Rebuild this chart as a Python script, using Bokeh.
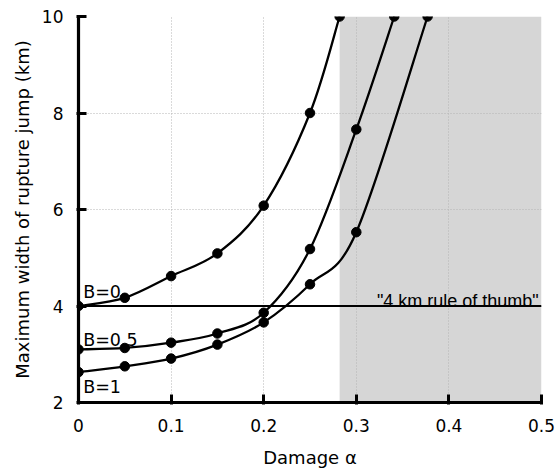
import numpy as np
from bokeh.plotting import figure
from bokeh.models import Range1d, FixedTicker, ColumnDataSource
from bokeh.core.properties import value
from bokeh.embed import file_html
from bokeh.resources import INLINE

# Data
alpha_b0 = [0.0, 0.05, 0.10, 0.15, 0.20, 0.25, 0.282]
width_b0 = [4.00, 4.17, 4.62, 5.09, 6.08, 8.00, 10.0]
alpha_b05 = [0.0, 0.05, 0.10, 0.15, 0.20, 0.25, 0.30, 0.341]
width_b05 = [3.10, 3.13, 3.24, 3.43, 3.86, 5.18, 7.66, 10.0]
alpha_b1 = [0.0, 0.05, 0.10, 0.15, 0.20, 0.25, 0.30, 0.377]
width_b1 = [2.63, 2.75, 2.91, 3.20, 3.66, 4.45, 5.53, 10.0]
series_labels = ["B=0", "B=0.5", "B=1"]
label_pos_x = [0.005, 0.005, 0.005]
label_pos_y = [4.29, 3.30, 2.33]
rule_width = 4.0
rule_label = '"4 km rule of thumb"'
shade_start = 0.282
x_ticks = [0, 0.1, 0.2, 0.3, 0.4, 0.5]
y_ticks = [2, 4, 6, 8, 10]

FONT = "'DejaVu Sans'"

p = figure(width=559, height=470, output_backend="svg", toolbar_location=None,
           x_range=Range1d(0, 0.5), y_range=Range1d(2, 10),
           min_border_left=78, min_border_right=18, min_border_top=16,
           min_border_bottom=66)
p.outline_line_color = None

# shaded region
p.quad(left=[shade_start], right=[0.5], bottom=[2], top=[10],
       fill_color="#d6d6d6", line_color=None, level="image")

# rule of thumb line
p.line([0, 0.5], [rule_width, rule_width], line_color="black", line_width=2)
p.text(x=[0.497], y=[rule_width + 0.11], text=[rule_label],
       text_font=value("'Liberation Sans'"), text_font_size="18px",
       text_align="right", text_baseline="alphabetic", text_color="black")


def bezier_segments(xs, ys):
    xs = np.asarray(xs, float)
    ys = np.asarray(ys, float)
    n = len(xs)
    px = np.concatenate([[xs[0]], xs, [xs[-1]]])
    py = np.concatenate([[ys[0]], ys, [ys[-1]]])
    x0, y0, x1, y1, cx0, cy0, cx1, cy1 = [], [], [], [], [], [], [], []
    for i in range(n - 1):
        a, b, c, d = i, i + 1, i + 2, i + 3
        x0.append(px[b]); y0.append(py[b])
        x1.append(px[c]); y1.append(py[c])
        cx0.append(px[b] + (px[c] - px[a]) / 6.0)
        cy0.append(py[b] + (py[c] - py[a]) / 6.0)
        cx1.append(px[c] - (px[d] - px[b]) / 6.0)
        cy1.append(py[c] - (py[d] - py[b]) / 6.0)
    return dict(x0=x0, y0=y0, x1=x1, y1=y1, cx0=cx0, cy0=cy0, cx1=cx1, cy1=cy1)


for xs, ys in [(alpha_b0, width_b0), (alpha_b05, width_b05), (alpha_b1, width_b1)]:
    src = ColumnDataSource(bezier_segments(xs, ys))
    p.bezier(x0="x0", y0="y0", x1="x1", y1="y1", cx0="cx0", cy0="cy0",
             cx1="cx1", cy1="cy1", source=src, line_color="black", line_width=2.3)
    p.scatter(xs, ys, size=9.5, color="black")

p.text(x=label_pos_x, y=label_pos_y, text=series_labels,
       text_font=value(FONT), text_font_size="17.5px",
       text_baseline="alphabetic", text_color="black")

# grid
for g in p.grid:
    g.grid_line_color = "#b4b4b4"
    g.grid_line_dash = "1 2"
    g.grid_line_width = 1
p.xgrid.ticker = FixedTicker(ticks=x_ticks)
p.ygrid.ticker = FixedTicker(ticks=y_ticks)

# axes
p.xaxis.ticker = FixedTicker(ticks=x_ticks)
p.yaxis.ticker = FixedTicker(ticks=y_ticks)
p.xaxis.major_label_overrides = {0: "0"}
for ax in [p.xaxis[0], p.yaxis[0]]:
    ax.axis_line_width = 3.2
    ax.axis_line_color = "black"
    ax.major_tick_line_width = 3
    ax.major_tick_line_color = "black"
    ax.major_tick_in = 8
    ax.major_tick_out = 2
    ax.minor_tick_line_color = None
    ax.major_label_text_font = FONT
    ax.major_label_text_font_size = "17px"
    ax.major_label_text_color = "black"
    ax.axis_label_text_font = FONT
    ax.axis_label_text_font_size = "18px"
    ax.axis_label_text_font_style = "normal"
    ax.axis_label_text_color = "black"
p.xaxis.axis_label = "Damage α"
p.yaxis.axis_label = "Maximum width of rupture jump (km)"
p.xaxis.major_label_standoff = 14
p.yaxis.major_label_standoff = 13
p.xaxis.axis_label_standoff = 12
p.yaxis.axis_label_standoff = 6

open("out.html", "w").write(file_html(p, INLINE))
